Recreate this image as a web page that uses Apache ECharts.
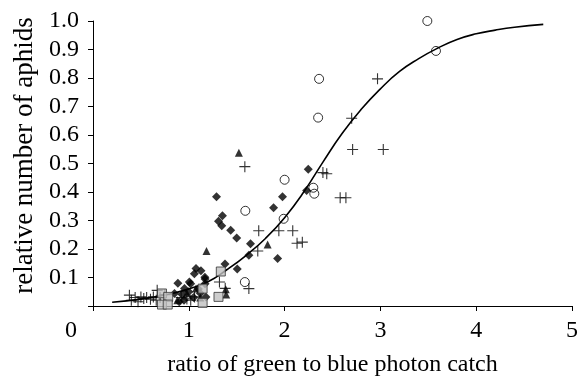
<!DOCTYPE html>
<html>
<head>
<meta charset="utf-8">
<script src="https://cdn.jsdelivr.net/npm/echarts@6.0.0/dist/echarts.min.js"></script>
<style>
  html, body { margin: 0; padding: 0; background: #fff; }
  #chart { width: 581px; height: 382px; }
</style>
</head>
<body>
<div id="chart"></div>
<script>
// values: [ratio, relative number]
const circles = [
  [3.49, 1.0], [3.58, 0.895], [2.36, 0.797], [2.35, 0.661], [2.0, 0.443],
  [1.59, 0.334], [1.99, 0.306], [2.30, 0.415], [2.31, 0.394], [1.585, 0.084]
];

const pluses = [
  [2.97, 0.797], [2.70, 0.659], [2.71, 0.549], [3.03, 0.549], [2.40, 0.468],
  [2.44, 0.464], [2.58, 0.38], [2.64, 0.38], [2.185, 0.224], [2.13, 0.22],
  [2.085, 0.264], [1.94, 0.264], [1.73, 0.264], [1.72, 0.193], [1.585, 0.489],
  [1.627, 0.061], [1.32, 0.084], [1.38, 0.062],
  [0.38, 0.038], [0.40, 0.02], [0.44, 0.03], [0.47, 0.015], [0.50, 0.032],
  [0.53, 0.026], [0.56, 0.03], [0.60, 0.024], [0.63, 0.032], [0.67, 0.055],
  [0.66, 0.02], [0.70, 0.03], [0.75, 0.04], [0.92, 0.03], [0.98, 0.025],
  [1.02, 0.02], [1.06, 0.032]
];

const diamonds = [
  [2.247, 0.48], [2.23, 0.405], [1.289, 0.383], [1.978, 0.383], [1.885, 0.345],
  [1.351, 0.317], [1.31, 0.297], [1.344, 0.282], [1.437, 0.266], [1.50, 0.239],
  [1.644, 0.218], [1.627, 0.178], [1.927, 0.167], [1.378, 0.147], [1.506, 0.13],
  [1.127, 0.124], [1.17, 0.095], [1.075, 0.132], [1.058, 0.113], [1.168, 0.101],
  [1.02, 0.078], [1.17, 0.078], [0.955, 0.061], [0.886, 0.08], [1.006, 0.084],
  [0.851, 0.044], [0.93, 0.04], [1.0, 0.05], [1.1, 0.06], [1.179, 0.032],
  [0.95, 0.02], [1.05, 0.03], [0.90, 0.015], [1.12, 0.045]
];

const triangles = [
  [1.523, 0.538], [1.185, 0.193], [1.823, 0.216], [1.386, 0.059], [1.39, 0.04],
  [1.075, 0.061], [0.88, 0.02], [0.98, 0.045], [1.12, 0.03]
];

const squares = [
  [1.334, 0.121], [1.144, 0.061], [1.144, 0.011], [1.31, 0.032],
  [0.72, 0.044], [0.785, 0.032], [0.72, 0.005], [0.78, 0.005]
];

// fitted curve, points
const curve = [
  [0.2, 0.013], [0.5, 0.024], [0.8, 0.042], [1.0, 0.06], [1.2, 0.085],
  [1.4, 0.128], [1.6, 0.178], [1.8, 0.237], [2.0, 0.31], [2.2, 0.40],
  [2.4, 0.505], [2.6, 0.605], [2.8, 0.69], [3.0, 0.762], [3.2, 0.823],
  [3.4, 0.868], [3.6, 0.905], [3.8, 0.935], [4.0, 0.955], [4.2, 0.968],
  [4.4, 0.978], [4.7, 0.988]
];

const font = '"Liberation Serif", "DejaVu Serif", serif';
const fontSize = 24;
const plusPath = 'path://M4.5,0h1v4.5h4.5v1h-4.5v4.5h-1v-4.5h-4.5v-1h4.5z';

const chart = echarts.init(document.getElementById('chart'));

const axisCommon = {
  axisLine: { lineStyle: { color: '#000', width: 1 } },
  axisTick: { inside: false, length: 5, lineStyle: { color: '#000' } },
  splitLine: { show: false }
};

chart.setOption({
  animation: false,
  backgroundColor: '#fff',
  grid: { left: 93, right: 5, top: 21, bottom: 71, containLabel: false },
  xAxis: Object.assign({}, axisCommon, {
    type: 'value',
    min: 0,
    max: 5,
    interval: 1,
    name: 'ratio of green to blue photon catch',
    nameLocation: 'middle',
    nameGap: 47,
    nameTextStyle: { color: '#000', fontSize: fontSize, fontFamily: font },
    axisLabel: {
      color: '#000',
      fontSize: fontSize,
      fontFamily: font,
      margin: 13,
      formatter: (v) => v === 0 ? '{z|0}' : String(v),
      rich: {
        z: { fontSize: fontSize, fontFamily: font, color: '#000', padding: [0, 44, 0, 0] }
      }
    }
  }),
  yAxis: Object.assign({}, axisCommon, {
    type: 'value',
    min: 0,
    max: 1,
    interval: 0.1,
    name: 'relative number of aphids',
    nameLocation: 'middle',
    nameGap: 53,
    nameTextStyle: {
      color: '#000',
      fontSize: 27,
      fontFamily: font,
      padding: [0, 0, 0, 16]
    },
    axisLabel: {
      color: '#000',
      fontSize: fontSize,
      fontFamily: font,
      margin: 14,
      formatter: (v) => v === 0 ? '' : v.toFixed(1)
    }
  }),
  series: [
    {
      type: 'line',
      data: curve,
      smooth: true,
      symbol: 'none',
      lineStyle: { color: '#000', width: 1.6 },
      z: 1
    },
    {
      type: 'scatter',
      data: pluses,
      symbol: plusPath,
      symbolSize: 11,
      itemStyle: { color: '#000' },
      z: 2
    },
    {
      type: 'scatter',
      data: circles,
      symbol: 'circle',
      symbolSize: 9,
      itemStyle: { color: 'rgba(0,0,0,0)', borderColor: '#000', borderWidth: 1 },
      z: 3
    },
    {
      type: 'scatter',
      data: triangles,
      symbol: 'triangle',
      symbolSize: 8,
      itemStyle: { color: '#000' },
      z: 3
    },
    {
      type: 'scatter',
      data: diamonds,
      symbol: 'diamond',
      symbolSize: 9,
      itemStyle: { color: '#000' },
      z: 4
    },
    {
      type: 'scatter',
      data: squares,
      symbol: 'rect',
      symbolSize: 9,
      itemStyle: { color: '#c0c0c0', borderColor: '#333', borderWidth: 1 },
      z: 5
    }
  ]
});
</script>
</body>
</html>
